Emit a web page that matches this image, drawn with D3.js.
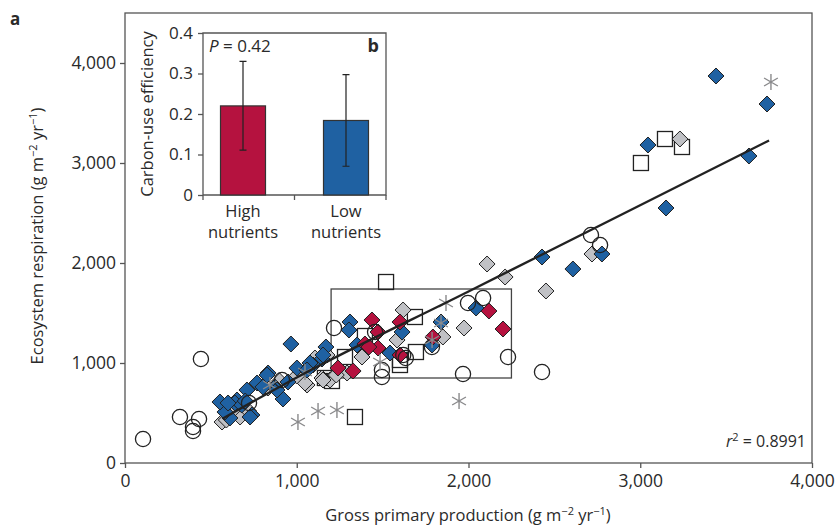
<!DOCTYPE html>
<html lang="en">
<head>
    <meta charset="UTF-8">
    <script src="https://d3js.org/d3.v7.min.js"></script>
    <style>
        body { margin: 0; background: #fff; }
        text { font-family: "Open Sans", "DejaVu Sans", sans-serif; fill: #2a2a2a; }
    </style>
</head>
<body>
    <div id="chart"></div>
    <script>
        // scatter data, [gross primary production, ecosystem respiration]
        var blueDiamonds = [[3441,3870],[3738,3590],[3045,3180],[3633,3070],[3150,2550],[2777,2090],[2608,1940],
            [2428,2060],[2044,1550],[1840,1410],[1788,1180],[1613,1310],[1543,1100],[1351,1180],[1310,1410],
            [1304,1330],[1170,1160],[1147,1040],[1095,980],[966,1190],[1153,1080],[1077,1000],[1001,950],
            [920,640],[873,760],[833,900],[827,880],[769,800],[739,480],[728,460],[710,730],[652,630],
            [611,450],[582,510],[553,610],[640,600],[949,810],[1060,930],[680,580],[600,600],[700,620],
            [803,760],[885,730]];
        var redDiamonds = [[1438,1430],[1601,1410],[1473,1310],[1397,1190],[1473,1150],[1240,950],[1328,920],
            [1601,1080],[1793,1260],[2119,1520],[2201,1340],[1420,1160]];
        var greyDiamonds = [[3231,3240],[2719,2090],[2108,1990],[2213,1860],[2451,1720],[1619,1530],[1974,1350],
            [1851,1260],[1584,1230],[1380,1060],[1293,900],[1060,780],[1194,830],[1147,850],[565,410],[670,460],
            [833,750],[1048,800],[1106,1050],[1176,1080],[1153,830],[640,550],[720,520],[900,820],[1000,870],
            [1230,880],[590,430]];
        var openCircles = [[105,240],[320,460],[431,440],[396,360],[396,320],[442,1040],[1217,1350],[914,830],
            [722,600],[1456,1310],[1496,930],[1496,860],[1620,1080],[1635,1050],[1997,1600],[2085,1650],
            [1787,1160],[2230,1060],[1968,890],[2428,910],[2713,2280],[2766,2180]];
        var openSquares = [[1520,1810],[3004,3000],[3144,3240],[3243,3160],[1339,460],[1688,1460],[1694,1110],
            [1601,1030],[1397,1270],[1281,1060],[1164,850],[1205,820],[1601,980]];
        var asterisks = [[3761,3810],[1007,410],[1124,520],[1234,530],[1945,620],[1869,1600],[1840,1400],
            [1788,1230],[1485,1010],[844,780],[1048,910]];

        var fitLine = [[570,445],[1000,855],[2000,1715],[3750,3225]];
        var boxGpp = [1200, 2250];
        var boxEr = [850, 1740];

        var xTicks = [0, 1000, 2000, 3000, 4000];
        var yTicks = [0, 1000, 2000, 3000, 4000];

        // inset b
        var nutrients = ["High", "Low"];
        var cue = [0.22, 0.184];
        var cueLow = [0.111, 0.071];
        var cueHigh = [0.33, 0.297];
        var cueTicks = [0, 0.1, 0.2, 0.3, 0.4];
        var barColors = ["#b5123f", "#1f61a2"];

        var svg = d3.select("#chart").append("svg")
            .attr("width", 835)
            .attr("height", 525);

        var x = d3.scaleLinear().domain([0, 4000]).range([125, 812]);
        var y = d3.scaleLinear().domain([0, 4500]).range([463, 13]);

        // plot frame
        svg.append("rect")
            .attr("x", x(0)).attr("y", y(4500))
            .attr("width", x(4000) - x(0)).attr("height", y(0) - y(4500))
            .attr("fill", "none").attr("stroke", "#555").attr("stroke-width", 1.3);

        var fmt = d3.format(",");
        var xAxis = svg.append("g")
            .attr("transform", "translate(0," + y(0) + ")")
            .call(d3.axisBottom(x).tickValues(xTicks).tickFormat(fmt).tickSize(5).tickPadding(4));
        var yAxis = svg.append("g")
            .attr("transform", "translate(" + x(0) + ",0)")
            .call(d3.axisLeft(y).tickValues(yTicks).tickFormat(fmt).tickSize(5).tickPadding(4));
        [xAxis, yAxis].forEach(function (g) {
            g.select(".domain").remove();
            g.selectAll("line").attr("stroke", "#555").attr("stroke-width", 1.3);
            g.selectAll("text").style("font-size", "17.5px").style("font-family", "'Open Sans', sans-serif")
                .attr("fill", "#333");
        });
        xAxis.selectAll("text").attr("dy", "0.85em");

        // box around the inset data range
        svg.append("rect")
            .attr("x", x(boxGpp[0])).attr("y", y(boxEr[1]))
            .attr("width", x(boxGpp[1]) - x(boxGpp[0])).attr("height", y(boxEr[0]) - y(boxEr[1]))
            .attr("fill", "none").attr("stroke", "#444").attr("stroke-width", 1.3);

        var diamond = "M0,-8L8,0L0,8L-8,0Z";

        svg.append("g").selectAll("rect")
            .data(openSquares).enter().append("rect")
            .attr("x", function (d) { return x(d[0]) - 7.5; })
            .attr("y", function (d) { return y(d[1]) - 7.5; })
            .attr("width", 15).attr("height", 15)
            .attr("fill", "none").attr("stroke", "#222").attr("stroke-width", 1.3);

        function drawDiamonds(data, fill) {
            svg.append("g").selectAll("path")
                .data(data).enter().append("path")
                .attr("d", diamond)
                .attr("transform", function (d) { return "translate(" + x(d[0]) + "," + y(d[1]) + ")"; })
                .attr("fill", fill).attr("stroke", "#222").attr("stroke-width", 1);
        }
        drawDiamonds(greyDiamonds, "#c0c1c5");
        drawDiamonds(blueDiamonds, "#1f61a2");
        drawDiamonds(redDiamonds, "#b5123f");

        svg.append("g").selectAll("circle")
            .data(openCircles).enter().append("circle")
            .attr("cx", function (d) { return x(d[0]); })
            .attr("cy", function (d) { return y(d[1]); })
            .attr("r", 7.6)
            .attr("fill", "none").attr("stroke", "#222").attr("stroke-width", 1.3);

        var star = "M0,-8V8M-6.9,-4L6.9,4M-6.9,4L6.9,-4";
        svg.append("g").selectAll("path")
            .data(asterisks).enter().append("path")
            .attr("d", star)
            .attr("transform", function (d) { return "translate(" + x(d[0]) + "," + y(d[1]) + ")"; })
            .attr("fill", "none").attr("stroke", "#8a8a8c").attr("stroke-width", 1.4);

        svg.append("path")
            .datum(fitLine)
            .attr("d", d3.line().x(function (d) { return x(d[0]); }).y(function (d) { return y(d[1]); })
                .curve(d3.curveMonotoneX))
            .attr("fill", "none").attr("stroke", "#222").attr("stroke-width", 2.3);

        // r squared
        var r2 = svg.append("text").attr("x", 806).attr("y", 447).attr("text-anchor", "end")
            .style("font-size", "16px");
        r2.append("tspan").style("font-style", "italic").text("r");
        r2.append("tspan").attr("dy", -6).style("font-size", "11px").text("2");
        r2.append("tspan").attr("dy", 6).text(" = 0.8991");

        // axis titles
        var xt = svg.append("text").attr("x", 468).attr("y", 521).attr("text-anchor", "middle")
            .style("font-size", "16.5px");
        xt.append("tspan").text("Gross primary production (g m");
        xt.append("tspan").attr("dy", -6).style("font-size", "11px").text("\u22122");
        xt.append("tspan").attr("dy", 6).text(" yr");
        xt.append("tspan").attr("dy", -6).style("font-size", "11px").text("\u22121");
        xt.append("tspan").attr("dy", 6).text(")");

        var yt = svg.append("text").attr("transform", "translate(43,236) rotate(-90)")
            .attr("text-anchor", "middle").style("font-size", "16.5px");
        yt.append("tspan").text("Ecosystem respiration (g m");
        yt.append("tspan").attr("dy", -6).style("font-size", "11px").text("\u22122");
        yt.append("tspan").attr("dy", 6).text(" yr");
        yt.append("tspan").attr("dy", -6).style("font-size", "11px").text("\u22121");
        yt.append("tspan").attr("dy", 6).text(")");

        svg.append("text").attr("x", 10).attr("y", 25).style("font-size", "17px")
            .style("font-weight", "bold").text("a");

        // ---- inset b ----
        var bx = d3.scalePoint().domain(nutrients).range([243, 346]);
        var by = d3.scaleLinear().domain([0, 0.4]).range([195, 33]);
        var left = 203, right = 386;

        svg.append("path")
            .attr("d", "M" + left + "," + by(0.4) + "H" + right + "V" + by(0) + "H" + left + "Z")
            .attr("fill", "#fff").attr("stroke", "#555").attr("stroke-width", 1.3);

        var bAxis = svg.append("g").attr("transform", "translate(" + left + ",0)")
            .call(d3.axisLeft(by).tickValues(cueTicks).tickFormat(function (d) { return d === 0 ? "0" : d3.format(".1f")(d); })
                .tickSize(5).tickPadding(5));
        bAxis.select(".domain").remove();
        bAxis.selectAll("line").attr("stroke", "#555").attr("stroke-width", 1.3);
        bAxis.selectAll("text").style("font-size", "17px").style("font-family", "'Open Sans', sans-serif")
            .attr("fill", "#333");

        // category separators on the inset x axis
        var sep = [left, (bx("High") + bx("Low")) / 2, right];
        svg.append("g").selectAll("line").data(sep).enter().append("line")
            .attr("x1", function (d) { return d; }).attr("x2", function (d) { return d; })
            .attr("y1", by(0)).attr("y2", by(0) + 5)
            .attr("stroke", "#555").attr("stroke-width", 1.3);

        var barW = 45;
        svg.append("g").selectAll("rect").data(nutrients).enter().append("rect")
            .attr("x", function (d) { return bx(d) - barW / 2; })
            .attr("y", function (d, i) { return by(cue[i]); })
            .attr("width", barW)
            .attr("height", function (d, i) { return by(0) - by(cue[i]); })
            .attr("fill", function (d, i) { return barColors[i]; })
            .attr("stroke", "#333").attr("stroke-width", 1.2);

        svg.append("g").selectAll("path").data(nutrients).enter().append("path")
            .attr("d", function (d, i) {
                var cx = bx(d), t = by(cueHigh[i]), b = by(cueLow[i]);
                return "M" + (cx - 3.5) + "," + t + "H" + (cx + 3.5) + "M" + cx + "," + t + "V" + b +
                    "M" + (cx - 3.5) + "," + b + "H" + (cx + 3.5);
            })
            .attr("fill", "none").attr("stroke", "#222").attr("stroke-width", 1.2);

        var lab = svg.append("g").selectAll("text").data(nutrients).enter().append("text")
            .attr("x", function (d) { return bx(d); })
            .attr("y", 217).attr("text-anchor", "middle").style("font-size", "16.5px");
        lab.append("tspan").text(function (d) { return d; });
        lab.append("tspan").attr("x", function (d) { return bx(d); }).attr("dy", 21).text("nutrients");

        svg.append("text").attr("transform", "translate(153,114) rotate(-90)")
            .attr("text-anchor", "middle").style("font-size", "16.5px").text("Carbon-use efficiency");

        var pt = svg.append("text").attr("x", 209).attr("y", 52).style("font-size", "17px");
        pt.append("tspan").style("font-style", "italic").text("P");
        pt.append("tspan").text(" = 0.42");

        svg.append("text").attr("x", 379).attr("y", 52).attr("text-anchor", "end")
            .style("font-size", "18px").style("font-weight", "bold").text("b");
    </script>
</body>
</html>
